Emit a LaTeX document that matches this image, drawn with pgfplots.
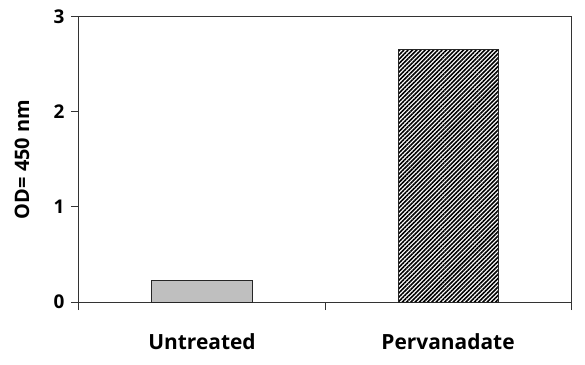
\documentclass[border=0pt]{standalone}
\usepackage{pgfplots}
\pgfplotsset{compat=1.18}
\usetikzlibrary{patterns.meta}
\usepackage{fontspec}
\setmainfont{Open Sans}
\begin{document}
\begin{tikzpicture}[x=1bp,y=1bp]
\path[use as bounding box] (-79bp,-63bp) rectangle (506bp,302bp);
\begin{axis}[
  at={(0,0)}, anchor=origin,
  scale only axis, width=492bp, height=285bp,
  xmin=0, xmax=2, ymin=0, ymax=3,
  ytick={0,1,2,3},
  xtick={0,1,2}, xticklabels={},
  extra x ticks={0.5,1.5}, extra x tick labels={Untreated,Pervanadate},
  extra x tick style={major tick length=0pt, tick label style={font=\fontsize{21}{21}\selectfont\bfseries, anchor=base, yshift=-47bp}},
  xtick pos=bottom, ytick pos=left,
  tick align=outside, major tick length=8bp,
  axis line style={line width=1bp, black!80},
  tick style={line width=1bp, black!80},
  ticklabel style={font=\fontsize{19}{19}\selectfont\bfseries},
  /pgf/number format/assume math mode=true,
  ylabel={OD= 450 nm},
  ylabel style={font=\fontsize{20}{20}\selectfont\bfseries, at={(axis description cs:0,0.5)}, anchor=center, yshift=57bp},
  yticklabel style={xshift=-3bp},
  ybar, bar width=100bp, bar shift=0pt,
  clip=false,
]
\addplot[draw=black!85, line width=1bp, fill=black!25] coordinates {(0.5,0.23)};
\addplot[draw=black!85, line width=1bp, pattern={Lines[angle=45,distance=3bp,line width=1.6bp]}, pattern color=black] coordinates {(1.5,2.66)};
\end{axis}
\end{tikzpicture}
\end{document}
